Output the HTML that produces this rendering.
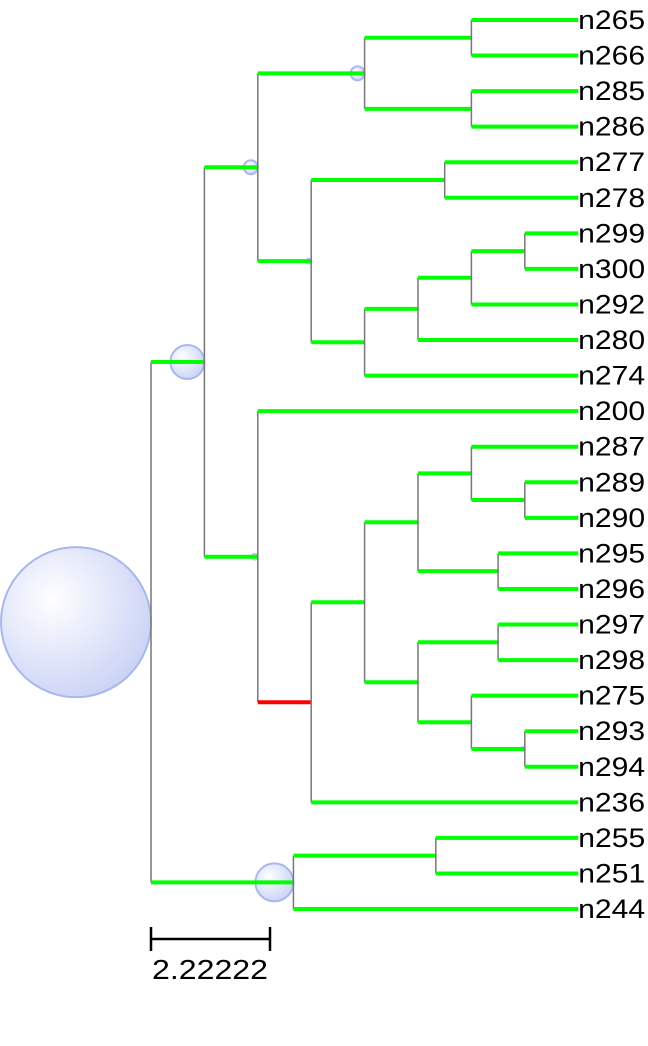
<!DOCTYPE html>
<html><head><meta charset="utf-8"><style>
html,body{margin:0;padding:0;background:#fff;}
svg{display:block;font-family:"Liberation Sans",sans-serif;}
</style></head><body>
<svg id="chart" width="648" height="1046" viewBox="0 0 648 1046">
<defs>
<radialGradient id="bub" cx="0.35" cy="0.35" r="0.7">
<stop offset="0" stop-color="#ffffff"/><stop offset="1" stop-color="#c6cff5"/>
</radialGradient>
</defs>
<g id="circles"></g>
<g id="branches"></g>
<g id="labels"></g>
<g>
<line x1="151" y1="939" x2="270" y2="939" stroke="#000" stroke-width="2.5"/>
<line x1="151" y1="927" x2="151" y2="951" stroke="#000" stroke-width="2.5"/>
<line x1="270" y1="927" x2="270" y2="951" stroke="#000" stroke-width="2.5"/>
<text x="152" y="979" font-size="28" textLength="116" lengthAdjust="spacingAndGlyphs">2.22222</text>
</g>
</svg>
<script>
const unitPx = 53.4;
const rootX = 151;
const leafTop = 20;
const leafStep = 35.56;
const tree = {len:0, r:75, ch:[
 {len:1, r:17, ch:[
  {len:1, r:7, ch:[
   {len:2, r:7, ch:[
    {len:2, ch:[{len:2,name:"n265"},{len:2,name:"n266"}]},
    {len:2, ch:[{len:2,name:"n285"},{len:2,name:"n286"}]}
   ]},
   {len:1, r:2.5, ch:[
    {len:2.5, ch:[{len:2.5,name:"n277"},{len:2.5,name:"n278"}]},
    {len:1, ch:[
     {len:1, ch:[
      {len:1, ch:[
       {len:1, ch:[{len:1,name:"n299"},{len:1,name:"n300"}]},
       {len:2,name:"n292"}
      ]},
      {len:3,name:"n280"}
     ]},
     {len:4,name:"n274"}
    ]}
   ]}
  ]},
  {len:1, r:3, ch:[
   {len:6,name:"n200"},
   {len:1, red:true, ch:[
    {len:1, ch:[
     {len:1, ch:[
      {len:1, ch:[{len:2,name:"n287"},{len:1, ch:[{len:1,name:"n289"},{len:1,name:"n290"}]}]},
      {len:1.5, ch:[{len:1.5,name:"n295"},{len:1.5,name:"n296"}]}
     ]},
     {len:1, ch:[
      {len:1.5, ch:[{len:1.5,name:"n297"},{len:1.5,name:"n298"}]},
      {len:1, ch:[{len:2,name:"n275"},{len:1, r:2, ch:[{len:1,name:"n293"},{len:1,name:"n294"}]}]}
     ]}
    ]},
    {len:5,name:"n236"}
   ]}
  ]}
 ]},
 {len:2.667, r:19, ch:[
  {len:2.667, ch:[{len:2.667,name:"n255"},{len:2.667,name:"n251"}]},
  {len:5.333,name:"n244"}
 ]}
]};
const NS="http://www.w3.org/2000/svg";
const gB=document.getElementById('branches'),gL=document.getElementById('labels'),gC=document.getElementById('circles');
let leafIdx=0;
function layout(n,px){
  n.x=px+n.len*unitPx; n.px=px;
  if(n.name){n.y=leafTop+leafIdx*leafStep;leafIdx++;}
  else{n.ch.forEach(c=>layout(c,n.x));n.y=(n.ch[0].y+n.ch[n.ch.length-1].y)/2;}
}
layout(tree,rootX);
function mk(tag,attrs,parent){const e=document.createElementNS(NS,tag);for(const k in attrs)e.setAttribute(k,attrs[k]);parent.appendChild(e);return e;}
function draw(n){
  if(n.len>0){
    const h=mk('line',{x1:n.px,y1:n.y,x2:n.x,y2:n.y,stroke:n.red?'#ff0000':'#00ff00','stroke-width':4},gB);
    
    
  }
  if(n.ch){
    const v=mk('line',{x1:n.x,y1:n.ch[0].y,x2:n.x,y2:n.ch[n.ch.length-1].y,stroke:'#777','stroke-width':1.5},gB);
    
    
    n.ch.forEach(draw);
  }
  if(n.r){
    const c=mk('circle',{cx:n.x-n.r,cy:n.y,r:n.r,fill:'url(#bub)',stroke:'#9fb0ec','stroke-width':2,opacity:n.r>3?0.9:0.7},gC);
    
    
  }
  if(n.name){
    const t=mk('text',{x:n.x,y:n.y+9,'font-size':27,textLength:67,lengthAdjust:'spacingAndGlyphs'},gL);
    t.textContent=n.name;
    
    
  }
}
draw(tree);
</script>
</body></html>
